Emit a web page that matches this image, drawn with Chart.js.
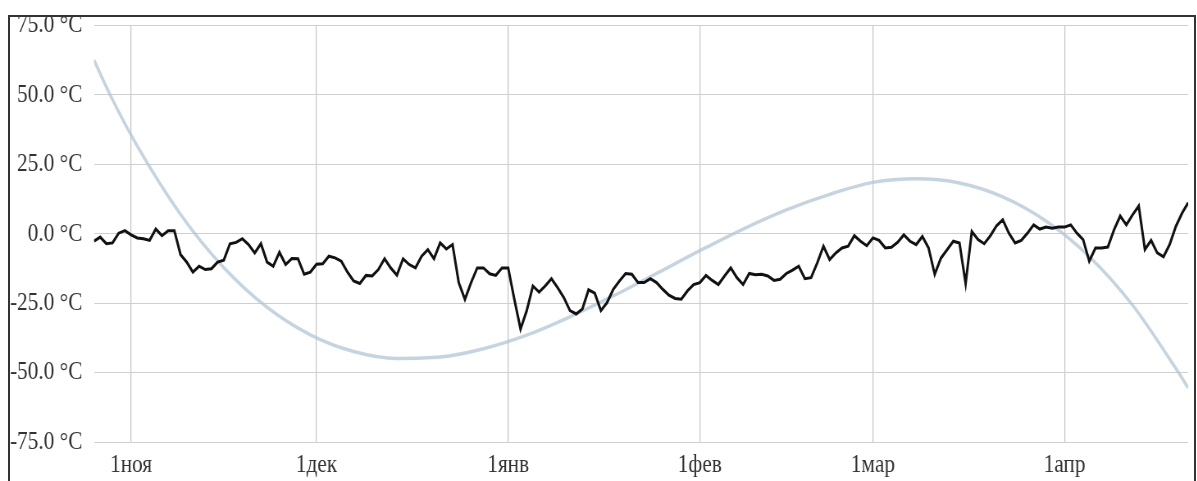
<!DOCTYPE html>
<html>
<head>
<meta charset="utf-8">
<script src="https://cdn.jsdelivr.net/npm/chart.js@4.4.0/dist/chart.umd.min.js"></script>
<style>
  html, body { margin: 0; padding: 0; background: #fff; overflow: hidden; }
  #frame { position: absolute; left: 8px; top: 15px; width: 1188px; height: 520px;
           border: 2px solid #333; box-sizing: border-box; overflow: hidden; }
  /* the original picture is squeezed horizontally, so draw wider and squeeze */
  #wrap { position: absolute; left: -10px; top: -17px; width: 1460px; height: 481px;
          transform: scaleX(0.82); transform-origin: 0 0; }
</style>
</head>
<body>
<div id="frame"><div id="wrap"><canvas id="chart" width="1460" height="481"></canvas></div></div>
<script>
// daily temperatures from 26 Oct to 21 Apr (index = day number)
const temps = [
  -2.7, -1.2, -3.6, -3.3, 0.2, 1.1, -0.4, -1.5, -1.8, -2.4,
  1.7, -0.7, 1.1, 1.1, -7.5, -10.2, -13.8, -11.7, -12.9, -12.6,
  -10.2, -9.5, -3.6, -3.1, -1.8, -3.9, -6.9, -3.6, -10.2, -11.7,
  -6.7, -11.1, -8.9, -9.0, -14.6, -13.8, -11.0, -10.8, -8.1, -8.7,
  -9.9, -13.8, -17.0, -17.9, -15.0, -15.2, -12.9, -9.0, -12.3, -14.9,
  -9.0, -11.1, -12.3, -8.1, -5.7, -9.0, -3.3, -5.5, -3.9, -17.6,
  -23.6, -17.6, -12.3, -12.3, -14.4, -15.0, -12.3, -12.3, -23.6, -34.3,
  -27.7, -18.8, -21.0, -18.8, -16.2, -19.4, -23.0, -27.7, -28.9, -27.1,
  -20.2, -21.4, -27.7, -24.8, -20.0, -17.0, -14.3, -14.6, -17.6, -17.6,
  -16.2, -17.6, -20.0, -22.1, -23.3, -23.6, -20.6, -18.3, -17.6, -15.0,
  -16.8, -18.3, -15.2, -12.3, -15.8, -18.3, -14.3, -14.8, -14.6, -15.2,
  -16.8, -16.4, -14.3, -13.1, -11.7, -16.2, -15.8, -10.5, -4.5, -9.3,
  -6.9, -5.1, -4.5, -0.7, -2.7, -4.3, -1.5, -2.4, -5.1, -4.9,
  -3.1, -0.4, -2.7, -3.9, -1.0, -5.1, -14.6, -8.8, -5.8, -2.7,
  -3.3, -17.9, 0.8, -2.1, -3.6, -0.7, 2.9, 5.0, 0.2, -3.3,
  -2.4, 0.2, 3.2, 1.7, 2.4, 2.0, 2.4, 2.4, 3.2, 0.2,
  -2.1, -9.9, -5.1, -5.1, -4.8, 1.4, 6.4, 3.2, 6.8, 10.0,
  -5.7, -2.4, -6.9, -8.3, -3.9, 2.6, 7.4, 11.2
];

// trend curve at a few days
const trendDays = [0, 3, 7, 14, 21, 28, 35, 42, 49, 56, 63, 70, 77, 84, 91,
  98, 105, 112, 119, 126, 133, 140, 147, 154, 161, 168, 175, 177];
const trendVals = [62.5, 48.3, 31.6, 7.0, -12.2, -26.5, -36.4, -42.4, -44.9, -44.4, -41.4, -36.5, -29.9, -22.4, -14.3,
  -6.1, 1.7, 8.6, 14.2, 18.5, 19.8, 18.3, 13.3, 4.6, -8.2, -25.7, -48.5, -55.5];

// month starts
const tickDays = [6, 36, 67, 98, 126, 157];
const tickLabels = ['1ноя', '1дек', '1янв', '1фев', '1мар', '1апр'];

const font = { family: "'Liberation Serif', 'Times New Roman', serif", size: 26 };

const ctx = document.getElementById('chart').getContext('2d');
const myChart = new Chart(ctx, {
  type: 'line',
  data: {
    datasets: [{
      data: temps.map((v, i) => ({ x: i, y: v })),
      borderColor: '#111',
      borderWidth: 3,
      pointRadius: 0,
      tension: 0
    }, {
      data: trendDays.map((d, i) => ({ x: d, y: trendVals[i] })),
      borderColor: 'rgba(176,198,214,0.75)',
      borderWidth: 3.5,
      pointRadius: 0,
      cubicInterpolationMode: 'monotone'
    }]
  },
  options: {
    responsive: false,
    animation: false,
    layout: { padding: { left: 0, right: 11, top: 25.5, bottom: 0 } },
    plugins: { legend: { display: false }, tooltip: { enabled: false } },
    scales: {
      x: {
        type: 'linear',
        min: 0,
        max: temps.length - 1,
        afterBuildTicks: (scale) => { scale.ticks = tickDays.map(v => ({ value: v })); },
        afterFit: (scale) => { scale.height = 39; },
        grid: { color: '#c4c4c4', lineWidth: 1.2, drawTicks: false },
        border: { display: false },
        ticks: {
          autoSkip: false, maxRotation: 0, padding: 8, color: '#333', font: font,
          callback: (v) => tickLabels[tickDays.indexOf(v)]
        }
      },
      y: {
        min: -75,
        max: 75,
        afterFit: (scale) => {
          scale.width = 114.6;
          // let the top label hang over the frame like in the picture
          scale.paddingTop = 0;
          scale.paddingBottom = 0;
        },
        grid: { color: '#cfcfcf', drawTicks: false },
        border: { display: false },
        ticks: {
          stepSize: 25, padding: 14, color: '#333', font: font,
          callback: (v) => v.toFixed(1) + ' °C'
        }
      }
    }
  }
});
</script>
</body>
</html>
